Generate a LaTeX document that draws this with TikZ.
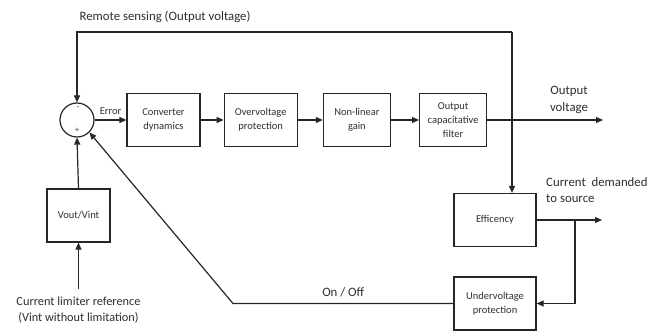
\documentclass[tikz,border=0pt]{standalone}
\usepackage{fontspec}
\setmainfont{Carlito}
\usetikzlibrary{arrows.meta,positioning,calc}
\definecolor{psLine}{HTML}{262626}
\definecolor{psText}{HTML}{2E2E2E}
\tikzset{
  psnode/.style={
    draw=psLine, line width=1.2pt, minimum height=53pt, inner sep=2pt,
    font=\fontsize{10.5}{14}\selectfont, align=center, text=psText
  },
  block/.style={psnode, minimum width=73pt},
  narrow/.style={psnode, minimum width=67pt},
  wide/.style={psnode, minimum width=82pt},
  vvbox/.style={psnode, minimum width=63pt},
  summer/.style={draw=psLine, line width=1.2pt, circle, minimum size=34pt, inner sep=0pt},
  sign/.style={font=\fontsize{8}{9}\selectfont, text=psText, inner sep=0pt},
  sig/.style={-{Triangle[length=7pt, width=6pt]}, line width=1.2pt, psLine},
  tag/.style={font=\fontsize{12.8}{16.5}\selectfont, text=psText, align=center, inner sep=0pt},
  small/.style={font=\fontsize{10.5}{12}\selectfont, text=psText, inner sep=0pt}
}
\begin{document}
\begin{tikzpicture}[x=1pt, y=1pt]
  \useasboundingbox (0,0) rectangle (660,332);
  \node[summer] (sum) at (77,212) {};
  \node[sign] (minus) at (78,224) {-};
  \node[sign] (plus) at (77,202) {+};
  \node[block] (conv) at (163.5,212) {Converter\\dynamics};
  \node[block, right=23pt of conv] (ovp) {Overvoltage\\protection};
  \node[narrow, right=25pt of ovp] (nlg) {Non-linear\\gain};
  \node[narrow, right=28pt of nlg] (ocf) {Output\\capacitative\\filter};
  \node[wide] (eff) at (495,112) {Efficency};
  \node[wide] (uvp) at (495,28.5) {Undervoltage\\protection};
  \node[vvbox] (vv) at (78.5,116.5) {Vout/Vint};
  \node[tag] (rslbl) at (165,315) {Remote sensing (Output voltage)};
  \node[tag] (vlbl) at (569,232) {Output\\voltage};
  \node[tag, align=left, anchor=west] (dlbl) at (546,142) {Current\ \ demanded\\to source};
  \node[tag, font=\fontsize{12.3}{16}\selectfont] (ref) at (78.5,22) {Current limiter reference\\(Vint without limitation)};
  \coordinate (rs) at (512,300);
  \coordinate (outv) at (603,212);
  \coordinate (dem) at (602,112);
  \coordinate (br) at (575,112);
  \coordinate (knee) at (233,28.5);
  \draw[sig] (sum) -- node[small, midway, above=5pt] {Error} (conv);
  \draw[sig] (conv) -- (ovp);
  \draw[sig] (ovp) -- (nlg);
  \draw[sig] (nlg) -- (ocf);
  \draw[sig] (ocf) -- (outv);
  \draw[sig] (rs) -| (sum.north);
  \draw[sig] (rs) -- (rs |- eff.north);
  \draw[sig] (eff) -- (dem);
  \draw[sig] (br) |- (uvp.east);
  \draw[sig] (uvp.west) -- node[tag, midway, above=6pt] {On / Off} (knee) -- (sum.south east);
  \draw[sig] (vv.north) -- (sum.south);
  \draw[sig] ([yshift=8pt]ref.north) -- (vv.south);
\end{tikzpicture}
\end{document}
